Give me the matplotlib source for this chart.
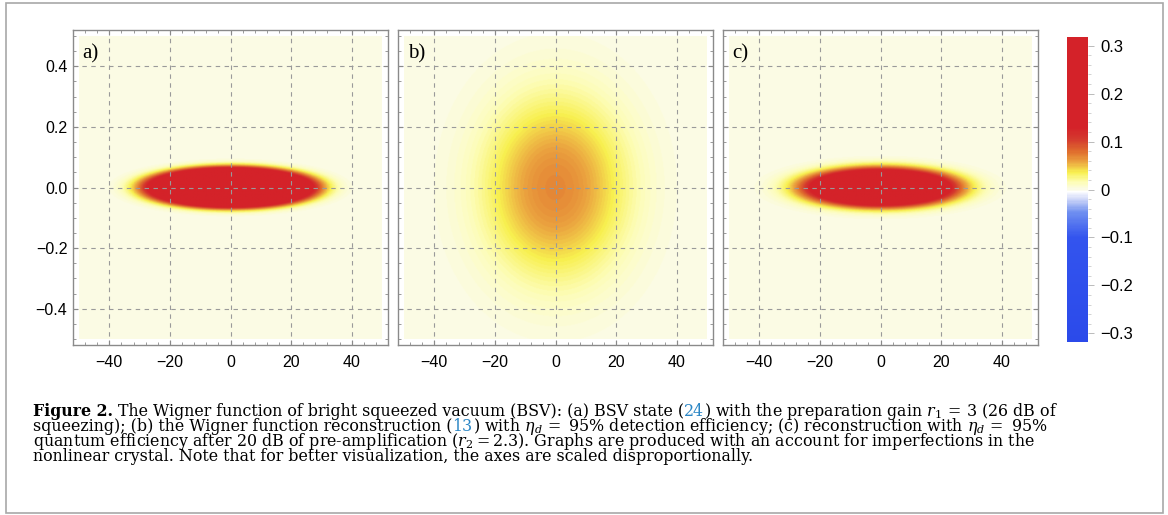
import numpy as np
import matplotlib
matplotlib.use('Agg')
import matplotlib.pyplot as plt
from matplotlib.colors import LinearSegmentedColormap
from matplotlib.patches import Rectangle
from matplotlib.ticker import MultipleLocator

plt.rcParams['mathtext.fontset'] = 'dejavuserif'

W, H = 1168, 515

# panel data: peak value, widths in x and p, flatness of the top
panel_labels = ['a)', 'b)', 'c)']
peak = [0.6, 0.068, 0.5]
width_x = [17.3, 16.5, 14.7]
width_p = [0.041, 0.21, 0.037]
flatness = [1.7, 1.1, 1.2]

xticks = [-40, -20, 0, 20, 40]
xtick_labels = ['\u221240', '\u221220', '0', '20', '40']
yticks = [-0.4, -0.2, 0.0, 0.2, 0.4]
ytick_labels = ['\u22120.4', '\u22120.2', '0.0', '0.2', '0.4']
cbar_ticks = [0.3, 0.2, 0.1, 0.0, -0.1, -0.2, -0.3]
cbar_labels = ['0.3', '0.2', '0.1', '0', '\u22120.1', '\u22120.2', '\u22120.3']

# colour scale of the colour bar
vmin, vmax = -0.318, 0.318
cmap_values = [-0.318, -0.10, -0.047, -0.02, -0.004, 0.0, 0.015, 0.036, 0.057, 0.078, 0.105, 0.13, 0.318]
cmap_colors = ['#2b4aea', '#3354ee', '#7090f0', '#d0d8f8', '#ffffff', '#fbfbe8', '#fdfdb8',
               '#f8f050', '#eba540', '#e0702e', '#d43a2e', '#d42229', '#d42229']
cmap = LinearSegmentedColormap.from_list(
    'wigner', [((v - vmin) / (vmax - vmin), c) for v, c in zip(cmap_values, cmap_colors)])

fig = plt.figure(figsize=(W / 100, H / 100), dpi=100)


def px_axes(l, t, r, b):
    return fig.add_axes([l / W, 1 - b / H, (r - l) / W, (b - t) / H])


# outer box round the figure
fig.patches.append(Rectangle((6 / W, 1 - 513 / H), 1157 / W, 510 / H, transform=fig.transFigure,
                             fill=False, ec='#a8a8a8', lw=1.2))

x = np.linspace(-50, 50, 401)
p = np.linspace(-0.5, 0.5, 401)
X, P = np.meshgrid(x, p)

lefts = [73, 398, 723]
for i in range(3):
    ax = px_axes(lefts[i], 30, lefts[i] + 315, 345)
    q = X**2 / (2 * width_x[i]**2) + P**2 / (2 * width_p[i]**2)
    Z = peak[i] * np.exp(-q**flatness[i])
    im = ax.imshow(Z, extent=[-50, 50, -0.5, 0.5], origin='lower', aspect='auto',
                   cmap=cmap, vmin=vmin, vmax=vmax, interpolation='bilinear')
    ax.set_xlim(-52, 52)
    ax.set_ylim(-0.52, 0.52)
    ax.set_xticks(xticks)
    ax.set_xticklabels(xtick_labels, family='Liberation Sans', fontsize=11.5)
    ax.set_yticks(yticks)
    if i == 0:
        ax.set_yticklabels(ytick_labels, family='Liberation Sans', fontsize=11.5)
    else:
        ax.set_yticklabels([])
    ax.xaxis.set_minor_locator(MultipleLocator(4))
    ax.yaxis.set_minor_locator(MultipleLocator(0.05))
    ax.tick_params(which='both', direction='in', top=True, right=True, color='#8a8a8a')
    ax.tick_params(which='major', length=3.5, width=0.8)
    ax.tick_params(which='minor', length=2, width=0.6)
    ax.tick_params(axis='x', pad=7)
    ax.tick_params(axis='y', pad=4)
    ax.grid(True, which='major', color='#9a9a9a', ls=(0, (4, 4)), lw=0.8)
    ax.set_axisbelow(False)
    for s in ax.spines.values():
        s.set_color('#8a8a8a')
        s.set_linewidth(1.0)
    ax.text(-48.8, 0.44, panel_labels[i], family='Liberation Serif', fontsize=15,
            ha='left', va='center')

# colour bar
cax = px_axes(1067, 37, 1088, 342)
cb = fig.colorbar(im, cax=cax, ticks=cbar_ticks)
cb.outline.set_visible(False)
cax.set_yticklabels(cbar_labels, family='Liberation Sans', fontsize=12)
cax.yaxis.set_minor_locator(MultipleLocator(0.02))
cax.tick_params(which='major', length=4, width=0.6, color='#b0b0b0', pad=5)
cax.tick_params(which='minor', length=2.5, width=0.5, color='#c0c0c0')

# caption, written piece by piece so that bold and blue parts line up
renderer = fig.canvas.get_renderer()
line1 = r'Figure 2. The Wigner function of bright squeezed vacuum (BSV): (a) BSV state (24) with the preparation gain $r_1\,=\,3$ (26 dB of'
probe = fig.text(0, 0, line1, fontsize=10, family='DejaVu Serif')
FS = 10 * 1022 / probe.get_window_extent(renderer).width
probe.remove()


def caption_line(y, parts):
    xp = 33
    for s, kw in parts:
        t = fig.text(xp / W, 1 - y / H, s, ha='left', va='baseline', fontsize=FS,
                     family='DejaVu Serif', **kw)
        xp += t.get_window_extent(renderer).width


blue = {'color': '#2b86c5'}
caption_line(416, [('Figure 2.', {'weight': 'bold'}),
                   (' The Wigner function of bright squeezed vacuum (BSV): (a) BSV state (', {}),
                   ('24', blue),
                   (r') with the preparation gain $r_1\,=\,3$ (26 dB of', {})])
caption_line(431, [('squeezing); (b) the Wigner function reconstruction (', {}),
                   ('13', blue),
                   (r') with $\eta_d\,=$ 95% detection efficiency; (c) reconstruction with $\eta_d\,=$ 95%', {})])
caption_line(446, [(r'quantum efficiency after 20 dB of pre-amplification ($r_2=2.3$). Graphs are produced with an account for imperfections in the', {})])
caption_line(461, [('nonlinear crystal. Note that for better visualization, the axes are scaled disproportionally.', {})])

fig.savefig('out.png', dpi=100)
